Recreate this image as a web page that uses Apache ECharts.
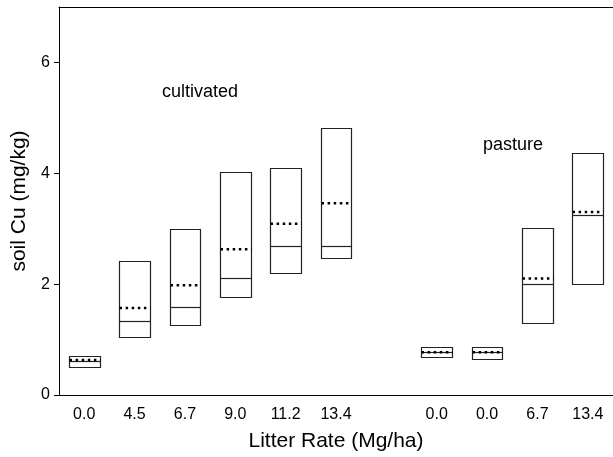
<!DOCTYPE html>
<html>
<head>
<meta charset="utf-8">
<script src="https://cdn.jsdelivr.net/npm/echarts@6/dist/echarts.min.js"></script>
<style>html,body{margin:0;padding:0;background:#fff;}#c{width:613px;height:457px;}</style>
</head>
<body>
<div id="c"></div>
<script>
var categories = ['0.0', '4.5', '6.7', '9.0', '11.2', '13.4', ' ', '0.0', '0.0', '6.7', '13.4'];
var boxLow  = [0.51, 1.05, 1.26, 1.77, 2.21, 2.47, null, 0.68, 0.65, 1.29, 2.01];
var boxHigh = [0.70, 2.42, 2.99, 4.03, 4.10, 4.81, null, 0.86, 0.86, 3.02, 4.37];
var medians = [0.61, 1.33, 1.59, 2.11, 2.69, 2.68, null, 0.77, 0.77, 2.01, 3.24];
var means   = [0.63, 1.57, 1.98, 2.63, 3.09, 3.46, null, 0.77, 0.77, 2.10, 3.30];
var yTicks = [0, 2, 4, 6];

var FONT = '"Liberation Sans", Arial, sans-serif';
var data = [];
for (var i = 0; i < categories.length; i++) {
  if (boxLow[i] == null) continue;
  data.push([i, boxLow[i], boxHigh[i], medians[i], means[i]]);
}

var chart = echarts.init(document.getElementById('c'), null, {renderer: 'canvas'});
chart.setOption({
  animation: false,
  backgroundColor: '#fff',
  grid: {left: 59, top: 7, width: 557.5, height: 391, show: false},
  xAxis: [{
    type: 'category',
    data: categories,
    boundaryGap: true,
    name: 'Litter Rate (Mg/ha)',
    nameLocation: 'middle',
    nameGap: 36,
    nameTextStyle: {fontFamily: FONT, fontSize: 21, color: '#000'},
    axisLine: {lineStyle: {color: '#000', width: 1}},
    axisTick: {alignWithLabel: true, length: 5, interval: 0, lineStyle: {color: '#000'}},
    axisLabel: {fontFamily: FONT, fontSize: 16, color: '#000', margin: 12, interval: 0},
    splitLine: {show: false}
  }, {
    type: 'category',
    data: categories,
    position: 'top',
    axisLine: {show: true, lineStyle: {color: '#000', width: 1}},
    axisTick: {show: false},
    axisLabel: {show: false},
    splitLine: {show: false}
  }],
  yAxis: {
    type: 'value',
    min: 0, max: 7,
    name: 'soil Cu (mg/kg)',
    nameLocation: 'middle',
    nameGap: 29,
    nameTextStyle: {fontFamily: FONT, fontSize: 21, color: '#000'},
    axisLine: {show: true, lineStyle: {color: '#000', width: 1}},
    axisTick: {show: true, length: 5, lineStyle: {color: '#000'}, customValues: yTicks},
    axisLabel: {fontFamily: FONT, fontSize: 16, color: '#000', margin: 9, customValues: yTicks},
    splitLine: {show: false}
  },
  graphic: [
    {type: 'text', left: 162, top: 83, style: {text: 'cultivated', font: '18px ' + FONT, fill: '#000'}},
    {type: 'text', left: 483, top: 136, style: {text: 'pasture', font: '18px ' + FONT, fill: '#000'}}
  ],
  series: [{
    type: 'custom',
    data: data,
    encode: {x: 0, y: [1, 2, 3, 4]},
    renderItem: function (params, api) {
      var x = api.value(0);
      var lo = api.coord([x, api.value(1)]);
      var hi = api.coord([x, api.value(2)]);
      var md = api.coord([x, api.value(3)]);
      var mn = api.coord([x, api.value(4)]);
      var w = api.size([1, 0])[0] * 0.61;
      var x0 = Math.round(lo[0] - w / 2) + 0.5;
      var x1 = Math.round(lo[0] + w / 2) + 0.5;
      return {
        type: 'group',
        children: [
          {type: 'rect', shape: {x: x0, y: Math.round(hi[1]) + 0.5, width: x1 - x0, height: Math.round(lo[1]) - Math.round(hi[1])},
           style: {fill: 'none', stroke: '#222', lineWidth: 1.2}},
          {type: 'line', shape: {x1: x0, y1: Math.round(md[1]) + 0.5, x2: x1, y2: Math.round(md[1]) + 0.5},
           style: {stroke: '#222', lineWidth: 1.2}},
          {type: 'line', shape: {x1: x0, y1: mn[1], x2: x1, y2: mn[1]},
           style: {stroke: '#000', lineWidth: 2.5, lineDash: [2.5, 3.6]}}
        ]
      };
    }
  }]
});
</script>
</body>
</html>
